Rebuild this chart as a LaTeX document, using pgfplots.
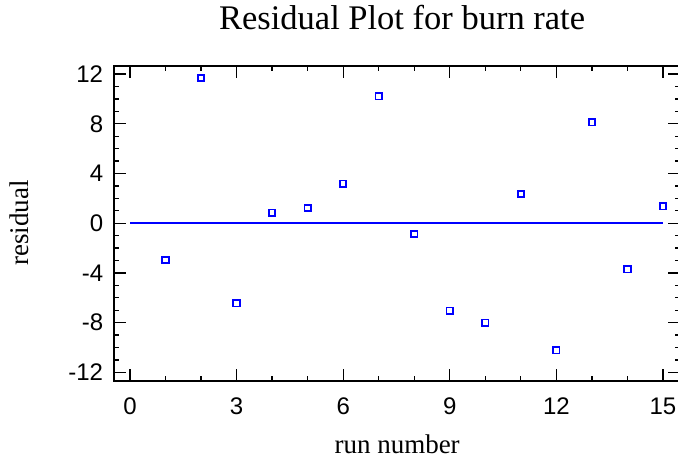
\documentclass[border=0pt]{standalone}
\usepackage{fontspec}
\setmainfont{Liberation Serif}
\newfontfamily\arialfont{Liberation Sans}
\usepackage{pgfplots}
\pgfplotsset{compat=1.18}
\definecolor{mblue}{RGB}{0,0,255}
\begin{document}
\begin{tikzpicture}
\begin{axis}[
  name=ax,
  scale only axis,
  width=565.7pt, height=315pt,
  xmin=-0.442, xmax=15.48,
  ymin=-12.67, ymax=12.67,
  xtick={0,3,...,15},
  ytick={-12,-8,...,12},
  minor x tick num=2,
  minor y tick num=3,
  tick align=inside,
  major tick length=12pt,
  minor tick length=5pt,
  axis line style={line width=1.8pt},
  every tick/.style={draw=black, line width=1.3pt},
  /pgf/number format/assume math mode=true,
  ticklabel style={font=\arialfont\fontsize{24}{24}\selectfont},
  xticklabel style={inner sep=0pt, anchor=north, yshift=-17pt},
  yticklabel style={inner sep=0pt, anchor=east, xshift=-11pt},
  title={Residual Plot for burn rate},
  title style={font=\fontsize{34.5}{36}\selectfont, at={(axis description cs:0.5088,1.097)}, anchor=base},
  xlabel={run number},
  xlabel style={font=\fontsize{27}{30}\selectfont, at={(axis description cs:0.5,-0.2305)}, anchor=base},
  ylabel={residual},
  ylabel style={font=\fontsize{27}{30}\selectfont, at={(axis description cs:-0.152,0.5)}, anchor=base, rotate=0},
]
\addplot[draw=mblue, line width=1.6pt, no marks] coordinates {(0,0) (15,0)};
\addplot[only marks, mark=square, mark size=3.2pt, draw=mblue, mark options={draw=mblue, line width=1.8pt}] coordinates {
(1,-2.96) (2,11.68) (3,-6.44) (4,0.84) (5,1.22) (6,3.18) (7,10.21) (8,-0.87)
(9,-7.04) (10,-8.00) (11,2.35) (12,-10.23) (13,8.12) (14,-3.71) (15,1.36)
};
\end{axis}
\pgfresetboundingbox
\path[use as bounding box] ([shift={(-114.3pt,-78.3pt)}]ax.south west) rectangle ([shift={(-2pt,65.7pt)}]ax.north east);
\end{tikzpicture}
\end{document}
